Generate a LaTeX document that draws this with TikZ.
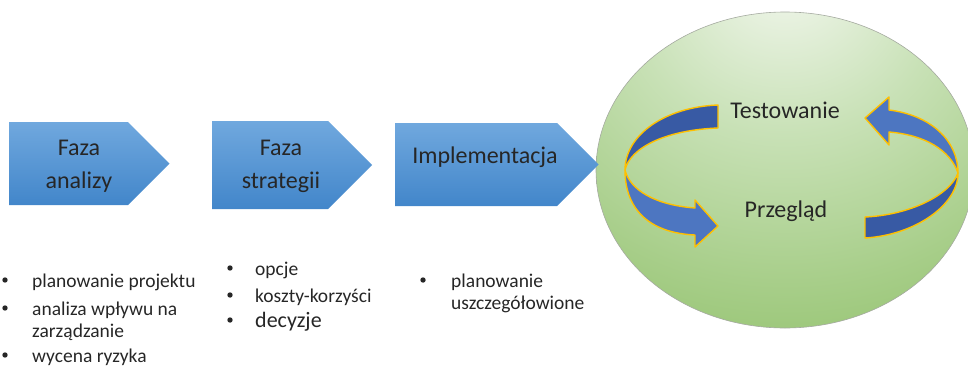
\documentclass[tikz,border=0pt]{standalone}
\usepackage{fontspec}
\setmainfont{Carlito}
\usetikzlibrary{positioning}

\definecolor{phasetop}{RGB}{112,168,222}
\definecolor{phasebot}{RGB}{66,134,202}
\definecolor{orblight}{RGB}{244,248,240}
\definecolor{orbmid}{RGB}{200,225,182}
\definecolor{orbdark}{RGB}{140,190,100}
\definecolor{orbline}{RGB}{165,170,160}
\definecolor{ringdark}{RGB}{56,90,164}
\definecolor{ringlight}{RGB}{77,118,193}
\definecolor{ringedge}{RGB}{255,192,0}
\definecolor{textgray}{RGB}{38,38,38}

% light spot near the top of the green orb
\pgfdeclareradialshading{orb}{\pgfpoint{0bp}{32bp}}{%
  color(0bp)=(orblight); color(20bp)=(orbmid); color(38bp)=(orbmid!45!orbdark);
  color(54bp)=(orbdark); color(100bp)=(orbdark)}

\begin{document}
\begin{tikzpicture}[x=1pt,y=-1pt,
    phase/.style={top color=phasetop, bottom color=phasebot},
    phasetext/.style={font=\fontsize{24}{33}\selectfont, text=textgray, align=center, inner sep=0pt},
    ringback/.style={fill=ringdark, draw=ringedge, line width=1.4pt, line join=round},
    ringfront/.style={fill=ringlight, draw=ringedge, line width=1.4pt, line join=round},
    item/.style={font=\fontsize{19.5}{25}\selectfont, text=textgray, anchor=base west, inner sep=0pt},
    dot/.style={fill=textgray}]
    \clip (0,0) rectangle (968,367);

    % the orb
    \shade[shading=orb, draw=orbline, line width=0.6pt] (785,170) ellipse [x radius=189, y radius=158];

    % phase chevrons
    \foreach \x/\w/\t/\b in {9/119/122/205, 212/116/121/209, 395/162/123/206}
        \shade[phase] (\x,\t) -- (\x+\w,\t) -- ({\x+\w+(\b-\t)/2},{(\t+\b)/2})
            -- (\x+\w,\b) -- (\x,\b) -- cycle;

    \node[phasetext] (analysis) at (79,166) {Faza\\analizy};
    \node[phasetext] (strategy) at (281,166) {Faza\\strategii};
    \node[phasetext, anchor=base] (implementation) at (485,163) {Implementacja};

    % left arrow: back half then front half with head
    \path[ringback] (718,105) .. controls (665,107) and (625,135) .. (625,170)
        .. controls (630,148) and (665,130) .. (718,128) -- cycle;
    \path[ringfront] (625,170) .. controls (630,190) and (655,205) .. (695,208)
        -- (695,200) -- (718,226) -- (695,247) -- (695,235)
        .. controls (650,233) and (625,210) .. (625,170) -- cycle;

    % right arrow
    \path[ringfront] (889,110) .. controls (930,115) and (958,140) .. (958,173)
        .. controls (950,150) and (925,135) .. (889,132)
        -- (889,145) -- (865,118) -- (889,97) -- cycle;
    \path[ringback] (958,173) .. controls (958,205) and (915,235) .. (865,238)
        -- (865,217) .. controls (910,215) and (950,195) .. (958,173) -- cycle;

    \node[phasetext, anchor=base] (testing) at (785,118) {Testowanie};
    \node[phasetext, anchor=base] (review) at (786,217) {Przegląd};

    % bullet lists
    \foreach \bx/\x/\y/\t [count=\i] in {5/32/287/planowanie projektu, 5/32/315/analiza wpływu na,
            5/32/362/wycena ryzyka, 230/255/275/opcje, 230/255/302/koszty-korzyści,
            423/451/287/planowanie}
    {
        \fill[dot] (\bx,\y-7) circle (2.7);
        \node[item] (item\i) at (\x,\y) {\t};
    }
    \node[item] (item2b) at (32,337) {zarządzanie};
    \node[item] (item6b) at (451,309) {uszczegółowione};
    \fill[dot] (230,320) circle (2.7);
    \node[item, font=\fontsize{22}{27}\selectfont] (item7) at (255,327) {decyzje};
\end{tikzpicture}
\end{document}
